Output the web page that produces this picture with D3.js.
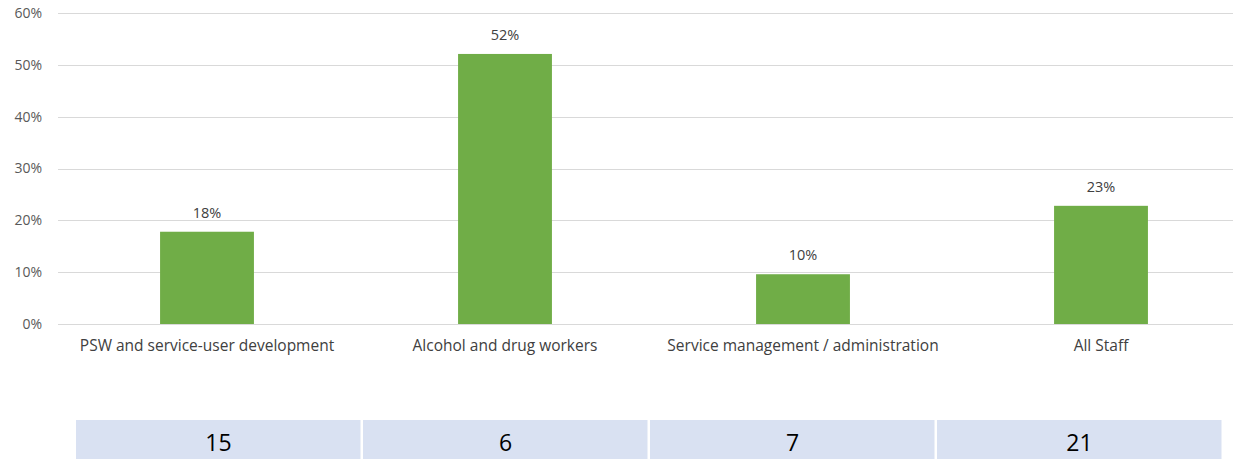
<!DOCTYPE html>
<html>
<head>
<meta charset="utf-8">
<script src="https://cdn.jsdelivr.net/npm/d3@7"></script>
<style>
  body { margin: 0; background: #fff; }
  svg { display: block; }
</style>
</head>
<body>
<svg id="chart" width="1235" height="459"></svg>
<script>
const categories = ["PSW and service-user development", "Alcohol and drug workers", "Service management / administration", "All Staff"];
const values = [0.178, 0.521, 0.096, 0.228];
const counts = [15, 6, 7, 21];
const yTicks = [0, 0.1, 0.2, 0.3, 0.4, 0.5, 0.6];

const svg = d3.select("#chart");
const font = "'Open Sans', 'Liberation Sans', sans-serif";

const x = d3.scaleBand().domain(categories).range([58, 1250]).padding(0);
const y = d3.scaleLinear().domain([0, 0.6]).range([324, 13]);
const barW = x.bandwidth() * 0.315;

// gridlines
svg.append("g").selectAll("line").data(yTicks).join("line")
  .attr("x1", 58).attr("x2", 1233)
  .attr("y1", d => Math.round(y(d)) + 0.5).attr("y2", d => Math.round(y(d)) + 0.5)
  .attr("stroke", "#d9d9d9").attr("stroke-width", 1);

// y axis labels
const yAxis = d3.axisLeft(y).tickValues(yTicks).tickFormat(d3.format(".0%")).tickSize(0).tickPadding(0);
const ya = svg.append("g").attr("transform", "translate(42,0)").call(yAxis);
ya.select(".domain").remove();
ya.selectAll("text").attr("font-family", font).attr("font-size", 14).attr("fill", "#595959");

// bars
svg.append("g").selectAll("rect").data(values).join("rect")
  .attr("x", (d, i) => x(categories[i]) + x.bandwidth() / 2 - barW / 2)
  .attr("width", barW)
  .attr("y", d => y(d))
  .attr("height", d => y(0) - y(d))
  .attr("fill", "#70AD47");

// value labels
svg.append("g").selectAll("text").data(values).join("text")
  .attr("x", (d, i) => x(categories[i]) + x.bandwidth() / 2)
  .attr("y", d => y(d) - 14)
  .attr("text-anchor", "middle")
  .attr("font-family", font).attr("font-size", 14.5).attr("fill", "#404040")
  .text(d => d3.format(".0%")(d));

// x axis labels
const xAxis = d3.axisBottom(x).tickSize(0).tickPadding(0);
const xa = svg.append("g").attr("transform", "translate(0,340)").call(xAxis);
xa.select(".domain").remove();
xa.selectAll("text").attr("font-family", font).attr("font-size", 15.5).attr("fill", "#404040");

// table
const t = d3.scaleBand().domain(categories).range([75, 1223]).padding(0);
const tg = svg.append("g");
tg.selectAll("rect").data(counts).join("rect")
  .attr("x", (d, i) => t(categories[i]) + 1)
  .attr("width", t.bandwidth() - 2.5)
  .attr("y", 420).attr("height", 40)
  .attr("fill", "#D9E1F2");
tg.selectAll("text").data(counts).join("text")
  .attr("x", (d, i) => t(categories[i]) + t.bandwidth() / 2)
  .attr("y", 451)
  .attr("text-anchor", "middle")
  .attr("font-family", font).attr("font-size", 23).attr("fill", "#000")
  .text(d => d);
</script>
</body>
</html>
